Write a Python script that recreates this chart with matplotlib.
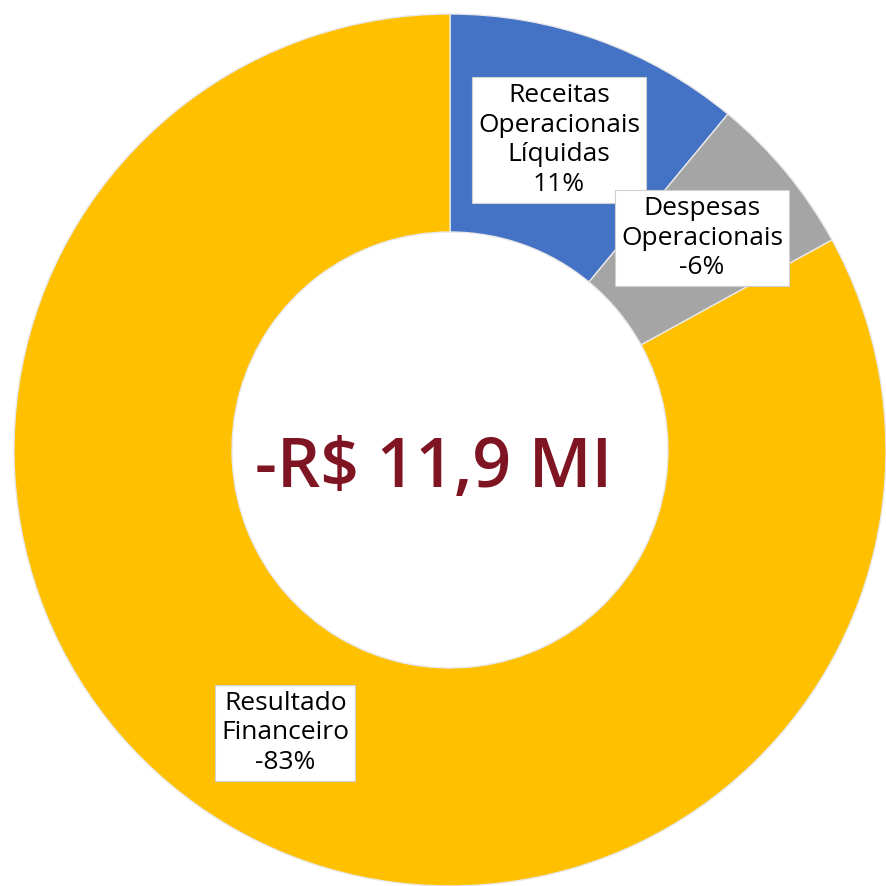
import numpy as np
import matplotlib.pyplot as plt

categories = ["Receitas\nOperacionais\nLíquidas", "Despesas\nOperacionais", "Resultado\nFinanceiro"]
shares = [11, -6, -83]
colors = ["#4472C4", "#A5A5A5", "#FFC000"]
total_label = "-R$ 11,9 MI"

fig = plt.figure(figsize=(8.86, 8.86), dpi=100)
ax = fig.add_axes([0, 0, 1, 1])

wedges, _ = ax.pie(np.abs(shares), colors=colors, startangle=90, counterclock=False,
                   radius=1.0, wedgeprops=dict(width=0.5, edgecolor="#e8e8e8", linewidth=1.0))

# label positions (data units, radius = 1)
label_pos = [(0.25, 0.711), (0.578, 0.486), (-0.378, -0.649)]
for name, val, (x, y) in zip(categories, shares, label_pos):
    ax.text(x, y, "{}\n{}%".format(name, val), ha="center", va="center",
            fontsize=19, family="Open Sans", linespacing=1.25,
            bbox=dict(boxstyle="square,pad=0.22", fc="white", ec="#d0d0d0", lw=0.8))

ax.text(-0.038, -0.045, total_label, ha="center", va="center", fontsize=49,
        fontweight="semibold", family="Open Sans", color="#7F1423")

ax.set_xlim(-450 / 436, 1.0)
ax.set_ylim(-1.0, 450 / 436)
ax.set_aspect("equal")
ax.axis("off")
fig.savefig("out.png", dpi=100, facecolor="white")
